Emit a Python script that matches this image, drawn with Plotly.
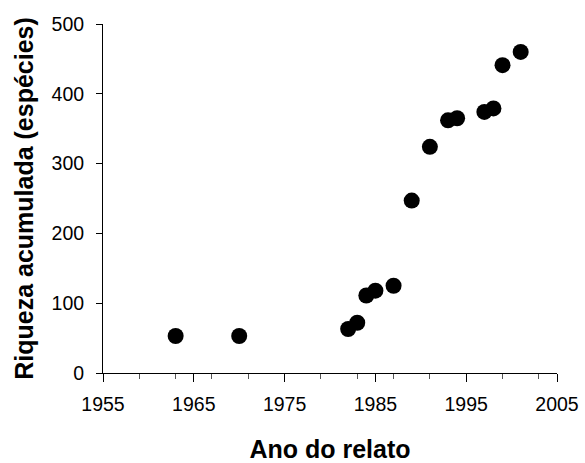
import plotly.graph_objects as go

years = [1963, 1970, 1982, 1983, 1984, 1985, 1987, 1989, 1991, 1993, 1994, 1997, 1998, 1999, 2001]
richness = [53, 53, 63, 72, 111, 118, 125, 247, 324, 362, 365, 374, 379, 441, 460]

x_title = "Ano do relato"
y_title = "Riqueza acumulada (espécies)"

fig = go.Figure(go.Scatter(
    x=years, y=richness, mode="markers",
    marker=dict(color="black", size=16, line=dict(width=0)),
    showlegend=False,
))

font = "Liberation Sans, Arial, sans-serif"
fig.update_layout(
    width=585, height=463,
    margin=dict(l=103, r=28, t=24, b=90),
    paper_bgcolor="white", plot_bgcolor="white",
    font=dict(family=font, color="black"),
)
fig.update_xaxes(
    range=[1955, 2005], tick0=1955, dtick=10, automargin=False,
    showgrid=False, zeroline=False,
    showline=True, linecolor="black", linewidth=1,
    ticks="outside", ticklen=8, tickcolor="black", tickwidth=1,
    minor=dict(tick0=1955, dtick=4, ticks="outside", ticklen=5, tickcolor="#555", tickwidth=1, showgrid=False),
    tickfont=dict(size=19.5, family=font),
    ticklabelstandoff=6,
    title=dict(text="<b>%s</b>" % x_title, font=dict(size=25, family=font), standoff=28),
)
fig.update_yaxes(
    range=[0, 500], tick0=0, dtick=100, automargin=False,
    showgrid=False, zeroline=False,
    showline=True, linecolor="black", linewidth=1,
    ticks="outside", ticklen=6, tickcolor="black", tickwidth=1,
    tickfont=dict(size=19.5, family=font),
    ticklabelstandoff=8,
    title=dict(text="<b>%s</b>" % y_title, font=dict(size=25, family=font), standoff=10),
)

fig.write_html(
    "out.html",
    config={"displayModeBar": False},
    post_script="document.body.style.margin='0';document.body.style.padding='0';document.body.style.overflow='hidden';",
)
